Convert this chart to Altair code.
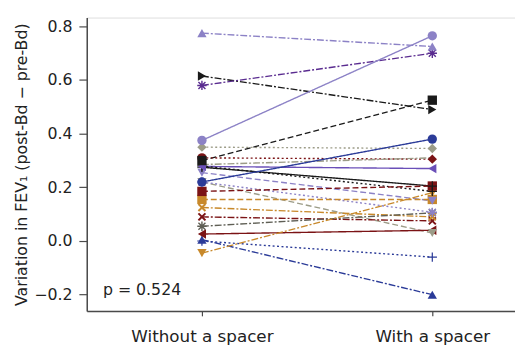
import altair as alt
import pandas as pd

# ---- data ----
subjects = [f"S{i:02d}" for i in range(1, 25)]
without_spacer = [0.775, 0.615, 0.58, 0.375, 0.35, 0.30, 0.31, 0.285, 0.278, 0.275, 0.28, 0.255,
                  0.22, 0.22, 0.22, 0.185, 0.155, 0.125, 0.09, 0.055, 0.026, 0.005, 0.0, -0.045]
with_spacer = [0.725, 0.49, 0.70, 0.765, 0.345, 0.525, 0.305, 0.31, 0.27, 0.205, 0.185, 0.15,
               0.38, 0.03, 0.107, 0.205, 0.155, 0.09, 0.075, 0.105, 0.04, -0.20, -0.06, 0.18]
conditions = ["Without a spacer", "With a spacer"]

# ---- styles ----
LP, DP, BK, GR, DR, GD, BL, PU, DG = ("#8c82c6", "#5a2c90", "#1a1a1a", "#9c9c88", "#7b1315",
                                      "#c8892b", "#2b3b98", "#6a4fb8", "#5f5f55")
colors = [LP, BK, DP, LP, GR, BK, DR, GR, PU, BK, BK, LP,
          BL, GR, LP, DR, GD, GD, DR, DG, DR, BL, BL, GD]
SOLID, DASH, DOT, DD = [1, 0], [6, 3], [2, 2.5], [7, 2, 2, 2]
dashes = [DD, DD, DD, SOLID, DOT, DASH, DOT, DD, SOLID, SOLID, DOT, DASH,
          SOLID, DASH, DOT, DASH, DASH, DD, DD, DD, SOLID, DD, DOT, DD]

PLUS = ("M-1,-0.13L-0.13,-0.13L-0.13,-1L0.13,-1L0.13,-0.13L1,-0.13L1,0.13L0.13,0.13"
        "L0.13,1L-0.13,1L-0.13,0.13L-1,0.13Z")
XMK = ("M-0.9,-0.6L-0.6,-0.9L0,-0.3L0.6,-0.9L0.9,-0.6L0.3,0L0.9,0.6L0.6,0.9L0,0.3"
       "L-0.6,0.9L-0.9,0.6L-0.3,0Z")
AST = ("M-0.15,-1L0.15,-1L0.15,1L-0.15,1Z M-1,-0.15L1,-0.15L1,0.15L-1,0.15Z "
       "M-0.856,-0.644L-0.644,-0.856L0.856,0.644L0.644,0.856Z "
       "M0.856,-0.644L-0.644,0.856L-0.856,0.644L0.644,-0.856Z")
marker_left = ["triangle-up", "triangle-right", AST, "circle", "diamond", "square", "circle", "none",
               "triangle-left", PLUS, PLUS, "triangle-down", "circle", "triangle-down", AST, "square",
               "square", XMK, XMK, AST, "triangle-left", "triangle-up", PLUS, "triangle-down"]
marker_right = ["triangle-up", "triangle-right", AST, "circle", "diamond", "square", "diamond", "none",
                "triangle-left", PLUS, PLUS, "triangle-down", "circle", "triangle-down", AST, "square",
                "square", XMK, XMK, AST, "triangle-left", "triangle-up", PLUS, "triangle-down"]

rows = []
for i, s in enumerate(subjects):
    rows.append(dict(subject=s, cond=0, val=without_spacer[i], shape=marker_left[i], order=i))
    rows.append(dict(subject=s, cond=1, val=with_spacer[i], shape=marker_right[i], order=i))
df = pd.DataFrame(rows)

FONT = "DejaVu Sans"
AX = "#4a4a4a"

x_enc = alt.X("cond:Q",
              scale=alt.Scale(domain=[-0.5, 1.359], nice=False, zero=False),
              axis=alt.Axis(values=[0, 1], title=None, grid=False,
                            labelExpr=f"datum.value == 0 ? '{conditions[0]}' : '{conditions[1]}'",
                            labelFontSize=17, labelFont=FONT, labelColor="#222",
                            tickSize=5, labelPadding=13, domainColor=AX, tickColor=AX,
                            domainWidth=1.5, tickWidth=1.2))
y_enc = alt.Y("val:Q",
              scale=alt.Scale(domain=[-0.2606, 0.833], nice=False, zero=False),
              axis=alt.Axis(values=[-0.2, 0.0, 0.2, 0.4, 0.6, 0.8], format=".1f", grid=False,
                            title="Variation in FEV\u2081 (post-Bd \u2212 pre-Bd)",
                            titleFontSize=16, titleFont=FONT, titleFontWeight="normal",
                            titleColor="#222", titlePadding=4,
                            labelFontSize=16, labelFont=FONT, labelColor="#222",
                            tickSize=8, labelPadding=7, domainColor=AX, tickColor=AX,
                            domainWidth=1.5, tickWidth=1.2))

color_enc = alt.Color("subject:N", scale=alt.Scale(domain=subjects, range=colors), legend=None)

lines = alt.Chart(df).mark_line(strokeWidth=1.4).encode(
    x=x_enc, y=y_enc, color=color_enc, detail="subject:N",
    strokeDash=alt.StrokeDash("subject:N", scale=alt.Scale(domain=subjects, range=dashes), legend=None),
)

points = alt.Chart(df).transform_filter("datum.shape != 'none'").mark_point(
    filled=True, size=90, opacity=1).encode(
    x=x_enc, y=y_enc, color=color_enc,
    shape=alt.Shape("shape:N", scale=None),
    order=alt.Order("order:Q", sort="descending"),
)

ptext = alt.Chart(pd.DataFrame({"x": [-0.43], "y": [-0.183], "t": ["p = 0.524"]})).mark_text(
    align="left", baseline="middle", fontSize=16, font=FONT, color="#222").encode(
    x=alt.X("x:Q"), y=alt.Y("y:Q"), text="t:N")

chart = alt.layer(lines, points, ptext).properties(
    width=435, height=298,
    autosize=alt.AutoSizeParams(type="none"),
    padding={"left": 80, "top": 7, "right": 0, "bottom": 38},
).configure_view(stroke=None).configure(background="white")

chart.save("out.html", embed_options={"renderer": "svg", "actions": False})
